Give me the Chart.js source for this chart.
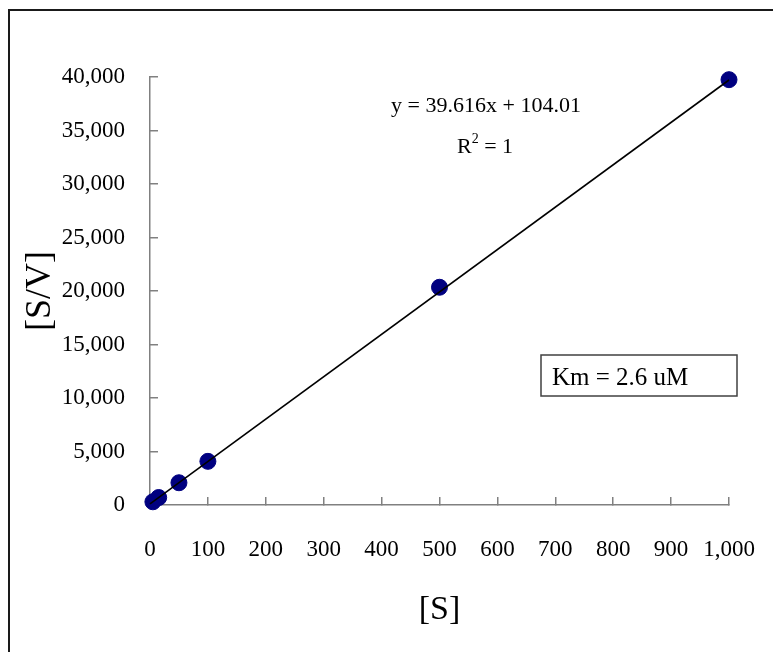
<!DOCTYPE html>
<html>
<head>
<meta charset="utf-8">
<script src="https://cdn.jsdelivr.net/npm/chart.js@4/dist/chart.umd.min.js"></script>
<style>
  html, body { margin: 0; padding: 0; background: #fff; overflow: hidden; }
  #wrap { position: absolute; left: 0; top: 0; width: 773px; height: 652px; }
</style>
</head>
<body>
<div id="wrap"><canvas id="kmChart" width="773" height="652"></canvas></div>
<script>
// substrate concentration [S] and [S]/V
const substrate = [5, 15, 50, 100, 500, 1000];
const sOverV = [300, 700, 2080, 4080, 20350, 39750];

// linear trendline reported on the chart
const slope = 39.616;
const intercept = 104.01;
const trendX = [0, 1000];

const xTicks = [0, 100, 200, 300, 400, 500, 600, 700, 800, 900, 1000];
const yTicks = [0, 5000, 10000, 15000, 20000, 25000, 30000, 35000, 40000];

const equationText = 'y = 39.616x + 104.01';
const kmText = 'Km = 2.6 uM';

const serif = '"Liberation Serif", "Times New Roman", serif';

// texts and frame that excel draws on top of the plot
const notesPlugin = {
  id: 'notes',
  afterDraw(chart) {
    const ctx = chart.ctx;
    ctx.save();

    // outer frame (only top and left edge are visible)
    ctx.strokeStyle = '#1a1a1a';
    ctx.lineWidth = 2;
    ctx.strokeRect(9, 10, 900, 800);

    ctx.fillStyle = '#000';
    ctx.textBaseline = 'alphabetic';

    // trendline equation
    ctx.font = '22px ' + serif;
    ctx.textAlign = 'center';
    ctx.fillText(equationText, 486, 112);

    // R^2 = 1
    ctx.textAlign = 'left';
    const wR = ctx.measureText('R').width;
    const wRest = ctx.measureText(' = 1').width;
    ctx.font = '14px ' + serif;
    const wSup = ctx.measureText('2').width;
    let x = 485 - (wR + wSup + wRest) / 2;
    ctx.font = '22px ' + serif;
    ctx.fillText('R', x, 153);
    ctx.font = '14px ' + serif;
    ctx.fillText('2', x + wR, 143);
    ctx.font = '22px ' + serif;
    ctx.fillText(' = 1', x + wR + wSup, 153);

    // Km box
    ctx.strokeStyle = '#404040';
    ctx.lineWidth = 1.5;
    ctx.strokeRect(541, 355, 196, 41);
    ctx.font = '25px ' + serif;
    ctx.fillText(kmText, 552, 385);

    ctx.restore();
  }
};

const ctx = document.getElementById('kmChart').getContext('2d');
new Chart(ctx, {
  type: 'scatter',
  data: {
    datasets: [
      {
        type: 'line',
        label: 'trend',
        data: trendX.map(v => ({ x: v, y: slope * v + intercept })),
        borderColor: '#000',
        borderWidth: 1.6,
        pointRadius: 0,
        fill: false,
        order: 0,
        clip: false
      },
      {
        label: 'S/V',
        data: substrate.map((s, i) => ({ x: s, y: sOverV[i] })),
        backgroundColor: '#000080',
        borderColor: '#000080',
        borderWidth: 1,
        pointRadius: 8,
        order: 1,
        clip: false
      }
    ]
  },
  options: {
    responsive: false,
    animation: false,
    layout: { padding: { left: 0, top: 77, right: 44, bottom: 0 } },
    plugins: {
      legend: { display: false },
      tooltip: { enabled: false }
    },
    scales: {
      x: {
        type: 'linear',
        min: 0,
        max: 1000,
        afterBuildTicks: scale => { scale.ticks = xTicks.map(v => ({ value: v })); },
        afterFit: scale => {
          scale.height = 147;
          // the tick padding is only meant to push labels down, not in
          scale.paddingLeft = 0;
          scale.paddingRight = 0;
        },
        border: { color: '#808080', width: 1.5 },
        grid: { drawOnChartArea: false, drawTicks: true, tickLength: -8, color: '#808080', lineWidth: 1.5 },
        ticks: { color: '#000', font: { family: serif, size: 23 }, padding: 39, maxRotation: 0 },
        title: { display: true, text: '[S]', color: '#000', font: { family: serif, size: 34 }, padding: { top: 0, bottom: 22 } }
      },
      y: {
        type: 'linear',
        min: 0,
        max: 40000,
        afterBuildTicks: scale => { scale.ticks = yTicks.map(v => ({ value: v })); },
        afterFit: scale => { scale.width = 150; },
        border: { color: '#808080', width: 1.5 },
        grid: { drawOnChartArea: false, drawTicks: true, tickLength: -8, color: '#808080', lineWidth: 1.5 },
        ticks: { color: '#000', font: { family: serif, size: 23 }, padding: 33 },
        title: { display: true, text: '[S/V]', color: '#000', font: { family: serif, size: 36 }, padding: { top: 19, bottom: 0 } }
      }
    }
  },
  plugins: [notesPlugin]
});
</script>
</body>
</html>
